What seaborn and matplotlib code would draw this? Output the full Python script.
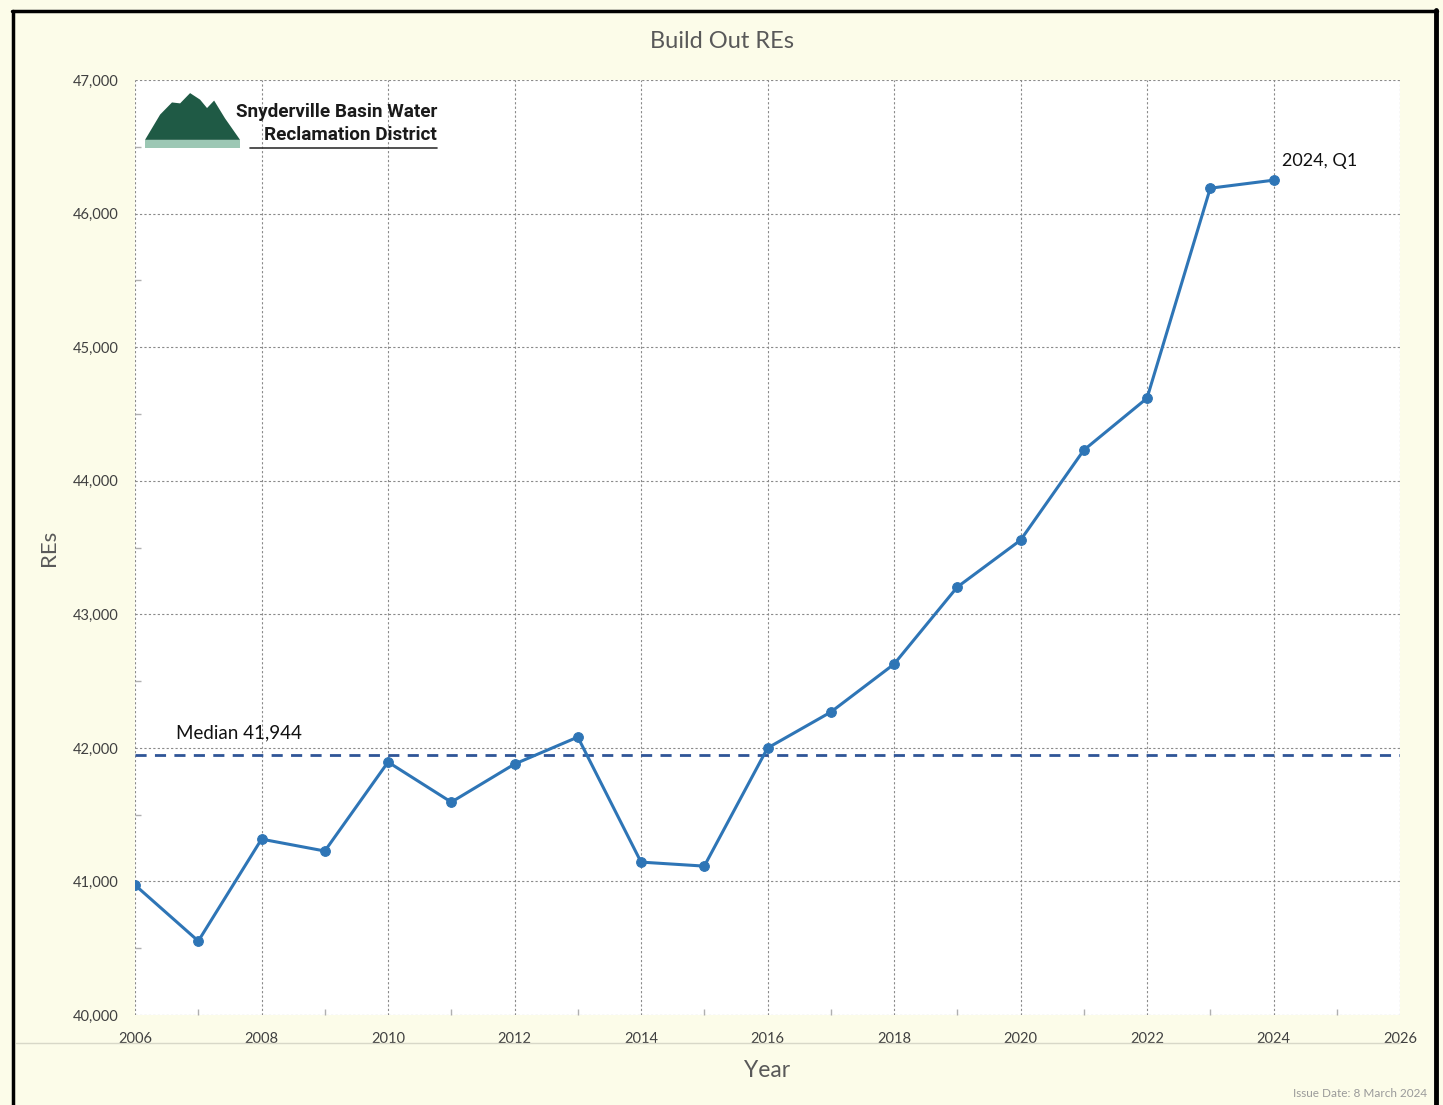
import matplotlib
matplotlib.use("Agg")
import matplotlib.pyplot as plt
import matplotlib.ticker as mticker
from matplotlib.lines import Line2D
from matplotlib.patches import Polygon
import seaborn as sns
import pandas as pd

# Build out REs per year (2024 is Q1)
years = [2006, 2007, 2008, 2009, 2010, 2011, 2012, 2013, 2014, 2015,
         2016, 2017, 2018, 2019, 2020, 2021, 2022, 2023, 2024]
res = [40973, 40554, 41317, 41228, 41894, 41594, 41879, 42081, 41145, 41115,
       41999, 42268, 42627, 43204, 43555, 44229, 44618, 46190, 46250]
median_re = 41944
x_ticks = list(range(2006, 2027, 2))
y_ticks = list(range(40000, 47001, 1000))

df = pd.DataFrame({"Year": years, "REs": res})

sns.set_theme(style="white")
plt.rcParams["font.family"] = ["Lato", "DejaVu Sans"]

bg = "#fcfce9"
fig = plt.figure(figsize=(14.43, 11.05), dpi=100, facecolor=bg)
ax = fig.add_axes([0.0936, 0.0814, 0.8766, 0.8462])
ax.set_facecolor("white")

sns.lineplot(data=df, x="Year", y="REs", ax=ax, color="#2e75b6", linewidth=2.2,
             marker="o", markersize=7, markeredgecolor="#2e75b6", zorder=4)
ax.axhline(median_re, color="#2f5597", linestyle=(0, (4, 3)), linewidth=2, zorder=3)

ax.set_xlim(2006, 2026)
ax.set_ylim(40000, 47000)
ax.set_xticks(x_ticks)
ax.set_yticks(y_ticks)
ax.xaxis.set_minor_locator(mticker.MultipleLocator(1))
ax.yaxis.set_minor_locator(mticker.MultipleLocator(500))
ax.yaxis.set_major_formatter(mticker.FuncFormatter(lambda v, p: f"{int(v):,}"))
ax.grid(True, which="major", color="#8a8a8a", linestyle=(0, (2, 2)), linewidth=0.8)
for s in ax.spines.values():
    s.set_visible(False)
ax.tick_params(which="major", length=0, labelsize=10.5, colors="#404040")
ax.tick_params(axis="x", which="major", pad=12)
ax.tick_params(axis="y", which="major", pad=12)
ax.tick_params(which="minor", direction="in", length=4, color="#b0b0b0",
               bottom=True, left=True)

fig.text(0.5, 0.962, "Build Out REs", ha="center", va="center",
         fontsize=17, color="#595959")
ax.set_xlabel("Year", fontsize=16.5, color="#595959", labelpad=10)
ax.set_ylabel("REs", fontsize=16, color="#595959", labelpad=10)

ax.annotate("2024, Q1", xy=(years[-1], res[-1]), xytext=(6, 10),
            textcoords="offset points", fontsize=13, color="#111111")
ax.annotate(f"Median {median_re:,}", xy=(2006.65, median_re), xytext=(0, 12),
            textcoords="offset points", fontsize=13.5, color="#111111")

# logo (approximate)
mount = Polygon([(0.0079, 0.936), (0.0198, 0.963), (0.0292, 0.976), (0.0356, 0.975),
                 (0.0435, 0.986), (0.0514, 0.979), (0.0569, 0.970), (0.0625, 0.978),
                 (0.0711, 0.959), (0.0830, 0.936)], closed=True, transform=ax.transAxes,
                facecolor="#1f5a45", edgecolor="none", zorder=5)
ax.add_patch(mount)
ax.add_patch(Polygon([(0.0079, 0.927), (0.0830, 0.927), (0.0830, 0.936), (0.0079, 0.936)],
                     closed=True, transform=ax.transAxes, facecolor="#9cc7b4",
                     edgecolor="none", zorder=5))
logo_font = ["Roboto", "DejaVu Sans"]
fig.text(0.303, 0.899, "Snyderville Basin Water", ha="right", va="center",
         fontsize=13.6, fontweight="bold", family=logo_font, color="#1a1a1a")
fig.text(0.303, 0.878, "Reclamation District", ha="right", va="center",
         fontsize=13.6, fontweight="bold", family=logo_font, color="#1a1a1a")
fig.add_artist(Line2D([0.173, 0.303], [0.866, 0.866], color="#333333", linewidth=1.2))

# page frame
fig.add_artist(Line2D([0.009, 0.009], [0.0, 0.99], color="black", linewidth=2.5))
fig.add_artist(Line2D([0.008, 0.996], [0.99, 0.99], color="black", linewidth=2.5))
fig.add_artist(Line2D([0.995, 0.995], [0.0, 0.991], color="black", linewidth=3.5))
fig.add_artist(Line2D([0.011, 0.97], [0.056, 0.056], color="#d8d8c8", linewidth=1))

fig.text(0.989, 0.005, "Issue Date: 8 March 2024", ha="right", va="bottom",
         fontsize=8.5, color="#9a9a9a")

fig.savefig("out.png", dpi=100, facecolor=bg)
